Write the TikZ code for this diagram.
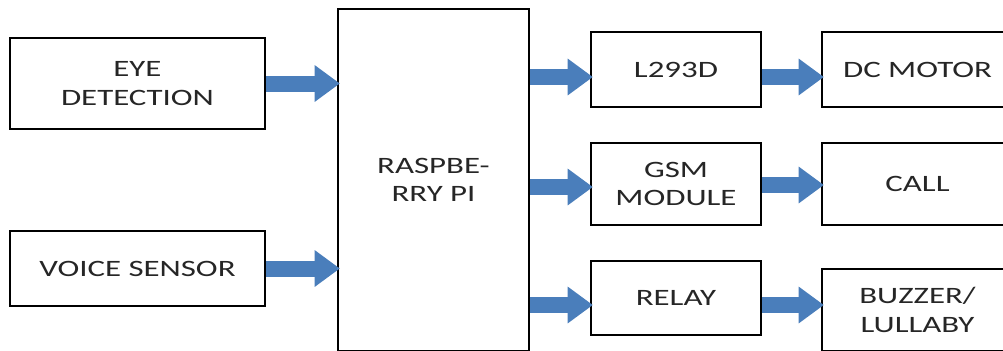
\documentclass[tikz,border=0pt]{standalone}
\usepackage{fontspec}
\setmainfont{Carlito}[FakeStretch=1.4]
\usetikzlibrary{arrows.meta}

\definecolor{flowblue}{HTML}{4A7EBB}
\definecolor{textgray}{HTML}{262626}

\tikzset{
    block/.style={draw=black, line width=1.8pt, fill=white, rectangle,
        align=center, text=textgray, inner sep=0pt,
        font=\fontsize{16.7}{20.2}\selectfont},
    flow/.style={line width=0.4cm, draw=flowblue, shorten >=-0.08cm,
        -{Triangle[length=0.63cm, width=0.875cm]}}
}

\begin{document}
\begin{tikzpicture}[x=0.025cm, y=-0.025cm]
    % Frame
    \useasboundingbox (0,0) rectangle (1003,350);
    \clip (0,0) rectangle (1003,350);

    % Input blocks
    \node[block, minimum width=6.375cm, minimum height=2.275cm] (eye) at (137.5,83.5) {EYE\\DETECTION};
    \node[block, minimum width=6.375cm, minimum height=1.875cm] (voice) at (137.5,268.5) {VOICE SENSOR};

    % Controller
    \node[block, minimum width=4.775cm, minimum height=8.55cm] (rpi) at (433.5,180) {RASPBE-\\RRY PI};

    % Driver blocks
    \node[block, minimum width=4.25cm, minimum height=1.875cm] (driver) at (676,69.5) {L293D};
    \node[block, minimum width=4.25cm, minimum height=2.05cm] (gsm) at (676,184) {GSM\\MODULE};
    \node[block, minimum width=4.25cm, minimum height=1.85cm] (relay) at (676,298) {RELAY};

    % Output blocks
    \node[block, minimum width=4.775cm, minimum height=1.875cm] (motor) at (917.5,69.5) {DC MOTOR};
    \node[block, minimum width=4.775cm, minimum height=2.05cm] (call) at (917.5,184) {CALL};
    \node[block, minimum width=4.775cm, minimum height=2.05cm] (buzzer) at (917.5,310) {BUZZER/\\LULLABY};

    % Inputs to controller
    \draw[flow] (eye.east) -- (eye.east -| rpi.west);
    \draw[flow] (voice.east) -- (voice.east -| rpi.west);

    % Controller to drivers
    \draw[flow] (rpi.east |- 0,77) -- (driver.west |- 0,77);
    \draw[flow] (rpi.east |- 0,187) -- (gsm.west |- 0,187);
    \draw[flow] (rpi.east |- 0,305) -- (relay.west |- 0,305);

    % Drivers to outputs
    \draw[flow] (driver.east |- 0,77) -- (motor.west |- 0,77);
    \draw[flow] (gsm.east |- 0,185) -- (call.west |- 0,185);
    \draw[flow] (relay.east |- 0,305) -- (buzzer.west |- 0,305);
\end{tikzpicture}
\end{document}
